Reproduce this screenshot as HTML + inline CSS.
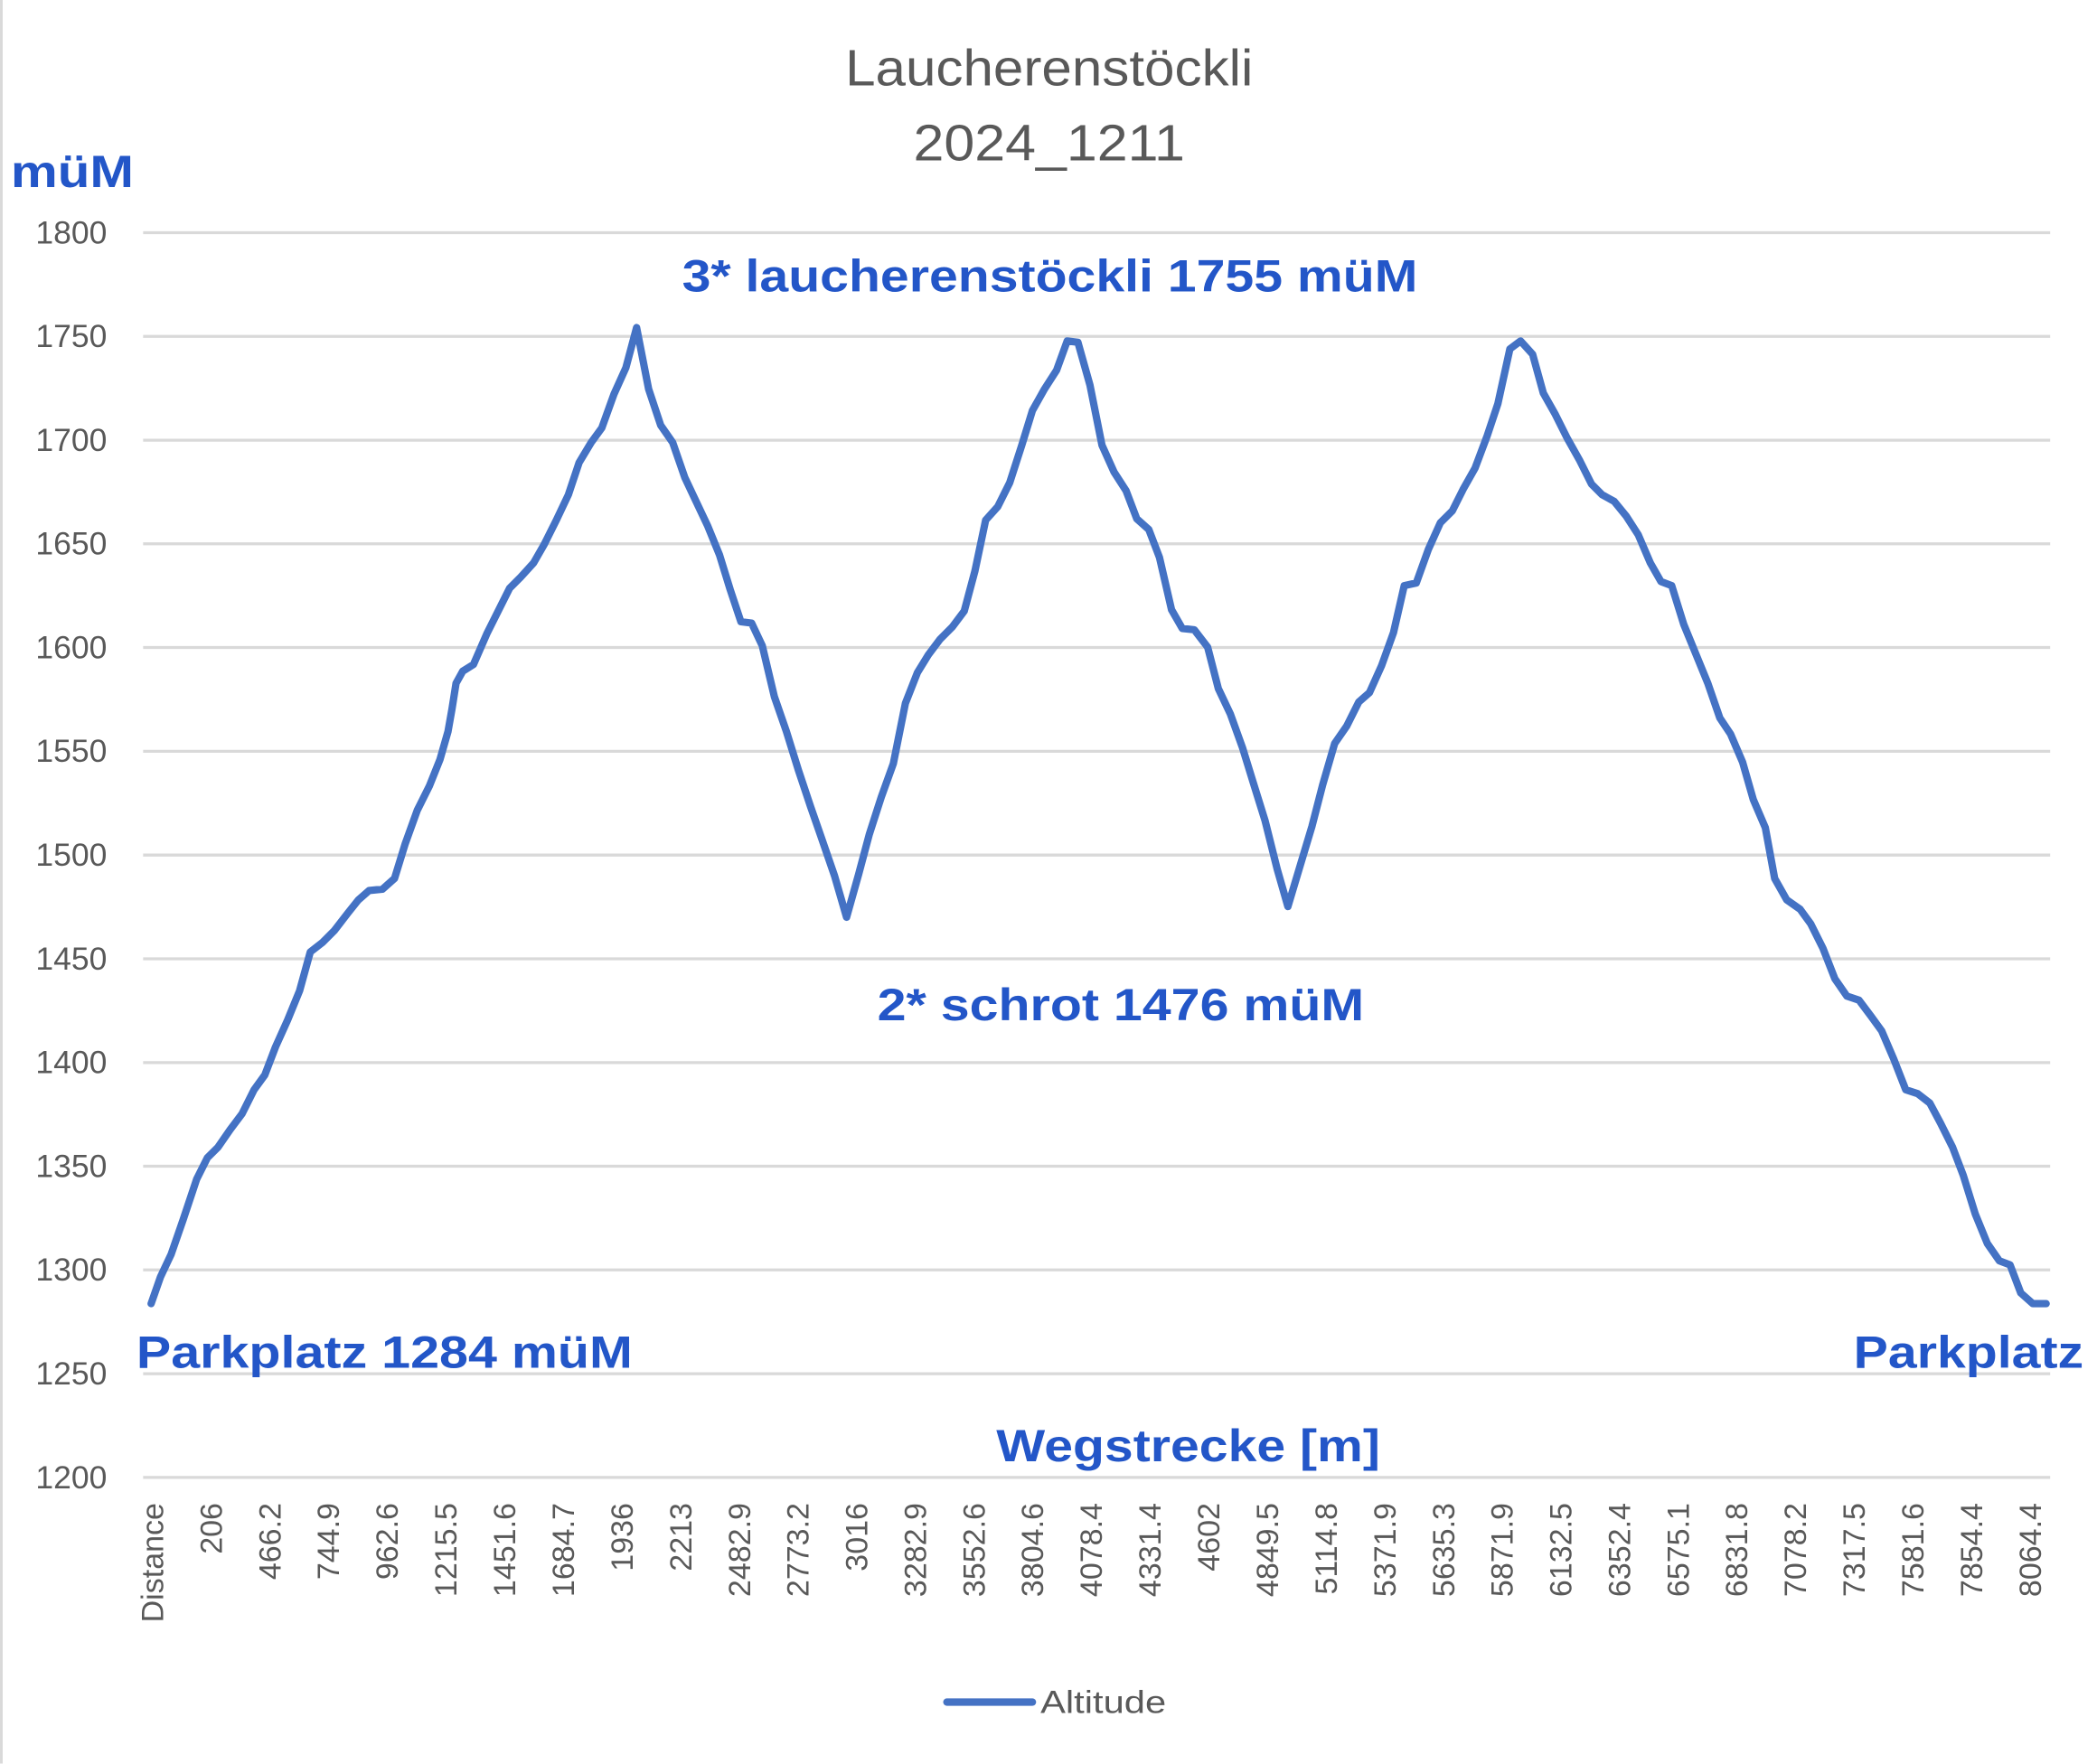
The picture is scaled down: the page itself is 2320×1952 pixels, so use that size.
<!DOCTYPE html>
<html><head><meta charset="utf-8"><style>html,body{margin:0;padding:0;background:#fff}svg{display:block}</style></head>
<body>
<svg width="2320" height="1952" viewBox="0 0 1568 1319.3" xmlns="http://www.w3.org/2000/svg" font-family="Liberation Sans, sans-serif">
<rect x="0" y="0" width="1568" height="1319.3" fill="#fff"/>
<line x1="1" y1="0" x2="1" y2="1319" stroke="#d9d9d9" stroke-width="2"/>
<g stroke="#d9d9d9" stroke-width="2.2">
<line x1="107" y1="174" x2="1533" y2="174"/><line x1="107" y1="251.6" x2="1533" y2="251.6"/><line x1="107" y1="329.2" x2="1533" y2="329.2"/><line x1="107" y1="406.7" x2="1533" y2="406.7"/><line x1="107" y1="484.3" x2="1533" y2="484.3"/><line x1="107" y1="561.9" x2="1533" y2="561.9"/><line x1="107" y1="639.5" x2="1533" y2="639.5"/><line x1="107" y1="717.1" x2="1533" y2="717.1"/><line x1="107" y1="794.7" x2="1533" y2="794.7"/><line x1="107" y1="872.2" x2="1533" y2="872.2"/><line x1="107" y1="949.8" x2="1533" y2="949.8"/><line x1="107" y1="1027.4" x2="1533" y2="1027.4"/><line x1="107" y1="1105" x2="1533" y2="1105"/>
</g>
<g fill="#595959" font-size="24" text-anchor="end">
<text x="80" y="182">1800</text><text x="80" y="259.6">1750</text><text x="80" y="337.2">1700</text><text x="80" y="414.7">1650</text><text x="80" y="492.3">1600</text><text x="80" y="569.9">1550</text><text x="80" y="647.5">1500</text><text x="80" y="725.1">1450</text><text x="80" y="802.7">1400</text><text x="80" y="880.2">1350</text><text x="80" y="957.8">1300</text><text x="80" y="1035.4">1250</text><text x="80" y="1113">1200</text>
</g>
<text x="632" y="64" fill="#595959" font-size="38" textLength="305" lengthAdjust="spacingAndGlyphs">Laucherenstöckli</text>
<text x="683" y="120" fill="#595959" font-size="38" textLength="203" lengthAdjust="spacingAndGlyphs">2024_1211</text>
<g fill="#2356c8" font-weight="bold" font-size="34">
<text x="8" y="140" textLength="92" lengthAdjust="spacingAndGlyphs">müM</text>
<text x="510" y="218" textLength="550" lengthAdjust="spacingAndGlyphs">3* laucherenstöckli 1755 müM</text>
<text x="656" y="763" textLength="364" lengthAdjust="spacingAndGlyphs">2* schrot 1476 müM</text>
<text x="102" y="1023" textLength="371" lengthAdjust="spacingAndGlyphs">Parkplatz 1284 müM</text>
<text x="1386" y="1023" textLength="172" lengthAdjust="spacingAndGlyphs">Parkplatz</text>
<text x="745" y="1093" textLength="287" lengthAdjust="spacingAndGlyphs">Wegstrecke [m]</text>
</g>
<polyline fill="none" stroke="#4472c4" stroke-width="5.5" stroke-linejoin="round" stroke-linecap="round" points="113,975 120,955 128,938 137,912 147,882 155,866 163,858 172,845 181,833 190,815 198,804 206,783 215,763 224,741 232,712 241,705 250,696 260,683 268,673 276,666 286,665 295,657 303,631 312,606 321,588 329,568 335,547 338,530 341,511 346,502 354,497 364,474 373,456 381,440 389,432 399,421 407,407 416,389 425,370 433,346 442,331 450,320 459,295 468,275 476,245 485,291 494,318 503,331 512,357 520,374 529,393 538,415 546,441 554,465 562,466 570,483 579,521 588,547 597,576 606,603 614,626 624,655 633,686 642,654 650,624 659,596 668,571 677,526 686,503 694,490 703,478 712,469 721,457 729,427 737,389 746,379 755,361 764,333 772,307 781,291 790,277 798,255 806,256 815,288 824,333 833,353 842,367 850,388 859,396 867,417 876,456 884,470 893,471 903,484 911,515 920,534 929,559 937,585 946,614 955,650 963,678 972,648 981,618 989,587 998,556 1007,543 1016,525 1024,518 1033,498 1042,473 1050,438 1059,436 1068,411 1077,391 1086,382 1094,366 1103,350 1112,326 1120,302 1129,261 1137,255 1146,265 1154,294 1163,310 1172,328 1181,344 1190,362 1198,370 1207,375 1216,386 1225,400 1234,421 1242,435 1250,438 1259,467 1268,489 1277,511 1286,537 1294,549 1303,570 1311,598 1320,619 1327,657 1336,673 1346,680 1354,691 1363,709 1372,732 1381,745 1390,748 1399,760 1407,771 1416,792 1425,815 1434,818 1443,825 1451,840 1460,858 1468,879 1477,908 1486,930 1495,943 1503,946 1511,967 1520,975 1530,975"/>
<line x1="708" y1="1273" x2="772" y2="1273" stroke="#4472c4" stroke-width="5.5" stroke-linecap="round"/>
<text x="778" y="1281" fill="#595959" font-size="24" textLength="94" lengthAdjust="spacingAndGlyphs">Altitude</text>
<g fill="#595959" font-size="23" text-anchor="end">
<text transform="translate(122,1124) rotate(-90)">Distance</text>
<text transform="translate(166,1124) rotate(-90)">206</text>
<text transform="translate(210,1124) rotate(-90)">466.2</text>
<text transform="translate(253.6,1124) rotate(-90)">744.9</text>
<text transform="translate(297.5,1124) rotate(-90)">962.6</text>
<text transform="translate(341.4,1124) rotate(-90)">1215.5</text>
<text transform="translate(385.3,1124) rotate(-90)">1451.6</text>
<text transform="translate(429.1,1124) rotate(-90)">1684.7</text>
<text transform="translate(473,1124) rotate(-90)">1936</text>
<text transform="translate(516.9,1124) rotate(-90)">2213</text>
<text transform="translate(560.8,1124) rotate(-90)">2482.9</text>
<text transform="translate(604.6,1124) rotate(-90)">2773.2</text>
<text transform="translate(648.5,1124) rotate(-90)">3016</text>
<text transform="translate(692.4,1124) rotate(-90)">3282.9</text>
<text transform="translate(736.3,1124) rotate(-90)">3552.6</text>
<text transform="translate(780.1,1124) rotate(-90)">3804.6</text>
<text transform="translate(824,1124) rotate(-90)">4078.4</text>
<text transform="translate(867.9,1124) rotate(-90)">4331.4</text>
<text transform="translate(911.8,1124) rotate(-90)">4602</text>
<text transform="translate(955.6,1124) rotate(-90)">4849.5</text>
<text transform="translate(999.5,1124) rotate(-90)">5114.8</text>
<text transform="translate(1043.4,1124) rotate(-90)">5371.9</text>
<text transform="translate(1087.3,1124) rotate(-90)">5635.3</text>
<text transform="translate(1131.1,1124) rotate(-90)">5871.9</text>
<text transform="translate(1175,1124) rotate(-90)">6132.5</text>
<text transform="translate(1218.9,1124) rotate(-90)">6352.4</text>
<text transform="translate(1262.8,1124) rotate(-90)">6575.1</text>
<text transform="translate(1306.6,1124) rotate(-90)">6831.8</text>
<text transform="translate(1350.5,1124) rotate(-90)">7078.2</text>
<text transform="translate(1394.4,1124) rotate(-90)">7317.5</text>
<text transform="translate(1438.3,1124) rotate(-90)">7581.6</text>
<text transform="translate(1482.1,1124) rotate(-90)">7854.4</text>
<text transform="translate(1526,1124) rotate(-90)">8064.4</text>
</g>
</svg>
</body></html>
